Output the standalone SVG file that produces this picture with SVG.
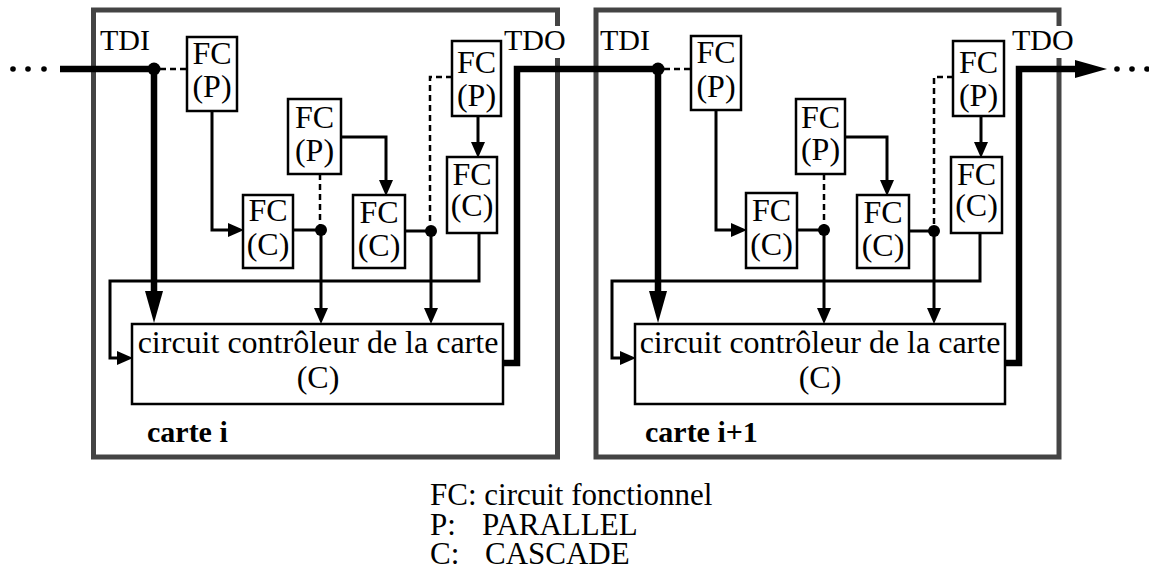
<svg xmlns="http://www.w3.org/2000/svg" width="1149" height="572" viewBox="0 0 1149 572">
<style>
text{font-family:"Liberation Serif","Times New Roman",serif;fill:#000}
.t{font-size:32px;text-anchor:middle}
.lbl{font-size:30px}
.bold{font-size:30px;font-weight:bold}
.leg{font-size:31px}
.card{fill:none;stroke:#444;stroke-width:5}
.box{fill:#fff;stroke:#000;stroke-width:2.5}
.ln{fill:none;stroke:#000;stroke-width:3}
.thin{fill:none;stroke:#000;stroke-width:3;marker-end:url(#ah)}
.dash{fill:none;stroke:#000;stroke-width:2.5;stroke-dasharray:6 4}
.thick{fill:none;stroke:#000;stroke-width:6.5}
.thickA{fill:none;stroke:#000;stroke-width:6.5;marker-end:url(#ahb)}
</style>
<defs>
<marker id="ah" markerUnits="userSpaceOnUse" markerWidth="16" markerHeight="14" refX="0" refY="7" orient="auto"><path d="M0,0L16,7L0,14Z" fill="#000"/></marker>
<marker id="ahb" markerUnits="userSpaceOnUse" markerWidth="32" markerHeight="18" refX="0" refY="9" orient="auto"><path d="M0,0L32,9L0,18Z" fill="#000"/></marker>
</defs>
<rect width="1149" height="572" fill="#fff"/>

<g id="card-i">
<rect class="card" x="93.5" y="10" width="464" height="447"/>
<rect x="502" y="26" width="68" height="32" fill="#fff"/>
<text class="lbl" x="100" y="50">TDI</text>
<text class="lbl" x="504" y="50">TDO</text>
<text class="bold" x="147" y="442">carte i</text>
</g>
<g id="card-i1">
<rect class="card" x="596" y="10" width="463" height="447"/>
<rect x="1010" y="26" width="68" height="32" fill="#fff"/>
<text class="lbl" x="600" y="50">TDI</text>
<text class="lbl" x="1012" y="50">TDO</text>
<text class="bold" x="645" y="442">carte i+1</text>
</g>

<g id="connectors">
<circle cx="13" cy="69" r="2.8"/><circle cx="28" cy="69" r="2.8"/><circle cx="44" cy="69" r="2.8"/>
<path class="thick" d="M60,69H154"/>
<path class="thickA" d="M154,69V291"/>
<circle cx="154" cy="69" r="6.5"/>
<path class="dash" d="M160,69H187"/>
<path class="thin" d="M212,111V230H228"/>
<path class="thin" d="M341,137H386V180"/>
<path class="dash" d="M320,174V230"/>
<path class="ln" d="M293,230H321"/>
<circle cx="321" cy="230" r="6"/>
<path class="thin" d="M321,230V308"/>
<path class="ln" d="M405,231H431"/>
<circle cx="431" cy="231" r="6"/>
<path class="thin" d="M431,231V308"/>
<path class="dash" d="M452,77H430V225"/>
<path class="thin" d="M478,116V142"/>
<path class="thin" d="M479,233V281H110V358H117"/>
<path class="thick" d="M503,363H517V69H658"/>

<path class="thickA" d="M658,69V291"/>
<circle cx="658" cy="69" r="6.5"/>
<path class="dash" d="M664,69H691"/>
<path class="thin" d="M716,111V230H731"/>
<path class="thin" d="M845,137H887V180"/>
<path class="dash" d="M824,174V230"/>
<path class="ln" d="M797,230H824"/>
<circle cx="824" cy="230" r="6"/>
<path class="thin" d="M824,230V308"/>
<path class="ln" d="M909,231H934"/>
<circle cx="934" cy="231" r="6"/>
<path class="thin" d="M934,231V308"/>
<path class="dash" d="M953,77H934V225"/>
<path class="thin" d="M981,116V142"/>
<path class="thin" d="M980,233V281H612V358H620"/>
<path class="thickA" d="M1005,363H1019V69H1075"/>
<circle cx="1117" cy="69" r="2.8"/><circle cx="1132" cy="69" r="2.8"/><circle cx="1147" cy="69" r="2.8"/>
</g>

<g id="fc1-p"><rect class="box" x="187" y="37" width="50" height="74"/><text class="t" x="212" y="64">FC</text><text class="t" x="212" y="97">(P)</text></g>
<g id="fc2-p"><rect class="box" x="288" y="99" width="53" height="75"/><text class="t" x="314.5" y="128">FC</text><text class="t" x="314.5" y="161">(P)</text></g>
<g id="fc3-p"><rect class="box" x="452" y="41" width="49" height="75"/><text class="t" x="476.5" y="73">FC</text><text class="t" x="476.5" y="106">(P)</text></g>
<g id="fc4-c"><rect class="box" x="447" y="157" width="50" height="76"/><text class="t" x="472" y="185">FC</text><text class="t" x="472" y="216">(C)</text></g>
<g id="fc5-c"><rect class="box" x="243" y="195" width="50" height="73"/><text class="t" x="268" y="221">FC</text><text class="t" x="268" y="255">(C)</text></g>
<g id="fc6-c"><rect class="box" x="353" y="195" width="52" height="73"/><text class="t" x="379" y="223">FC</text><text class="t" x="379" y="256">(C)</text></g>
<g id="ctrl-i"><rect class="box" x="132" y="324" width="371" height="80"/><text class="t" x="318" y="353">circuit contrôleur de la carte</text><text class="t" x="318" y="388">(C)</text></g>

<g id="fc1-p-b"><rect class="box" x="691" y="36" width="50" height="74"/><text class="t" x="716" y="63">FC</text><text class="t" x="716" y="97">(P)</text></g>
<g id="fc2-p-b"><rect class="box" x="796" y="99" width="49" height="75"/><text class="t" x="820.5" y="128">FC</text><text class="t" x="820.5" y="160">(P)</text></g>
<g id="fc3-p-b"><rect class="box" x="953" y="41" width="51" height="75"/><text class="t" x="978.5" y="73">FC</text><text class="t" x="978.5" y="106">(P)</text></g>
<g id="fc4-c-b"><rect class="box" x="951" y="157" width="51" height="76"/><text class="t" x="976.5" y="185">FC</text><text class="t" x="976.5" y="216">(C)</text></g>
<g id="fc5-c-b"><rect class="box" x="746" y="193" width="51" height="75"/><text class="t" x="771.5" y="221">FC</text><text class="t" x="771.5" y="255">(C)</text></g>
<g id="fc6-c-b"><rect class="box" x="857" y="195" width="52" height="73"/><text class="t" x="883" y="223">FC</text><text class="t" x="883" y="256">(C)</text></g>
<g id="ctrl-i1"><rect class="box" x="635" y="324" width="370" height="80"/><text class="t" x="820" y="353">circuit contrôleur de la carte</text><text class="t" x="820" y="388">(C)</text></g>

<g id="legend">
<text class="leg" x="430" y="505">FC: circuit fonctionnel</text>
<text class="leg" x="430" y="535">P:</text><text class="leg" x="482" y="535">PARALLEL</text>
<text class="leg" x="430" y="564">C:</text><text class="leg" x="485" y="564">CASCADE</text>
</g>
</svg>
